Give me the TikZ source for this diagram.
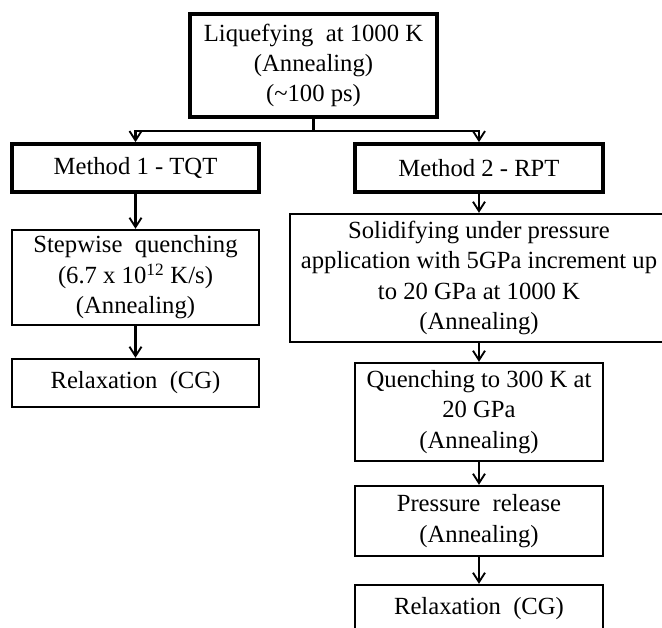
\documentclass[tikz,border=0pt]{standalone}
\usepackage{fontspec}
\setmainfont{Liberation Serif}
\usetikzlibrary{arrows.meta}

\begin{document}
\begin{tikzpicture}[x=0.75pt, y=0.75pt, >={Straight Barb[length=7pt, width=9pt, line width=1.4pt]}]
    \useasboundingbox (0,0) rectangle (662,628);
    \begin{scope}
        \tikzstyle{every node}=[fill=white, draw=black, rectangle, line width=1.8pt, inner sep=0pt, align=center, text=black, font=\fontsize{18.5}{22.8}\selectfont]
        \tikzstyle{heavy}=[line width=2.8pt]
        \node[heavy, minimum width=247*0.75pt, minimum height=103*0.75pt] (0) at (313.5,562.5) {Liquefying~ at 1000 K\\(Annealing)\\(\char`~100 ps)};
        \node[heavy, minimum width=247*0.75pt, minimum height=48*0.75pt] (1) at (135.5,460) {Method 1 - TQT};
        \node[heavy, minimum width=248*0.75pt, minimum height=48*0.75pt] (2) at (479,460) {Method 2 - RPT};
        \node[minimum width=247*0.75pt, minimum height=95*0.75pt] (3) at (135.5,350.5) {Stepwise~ quenching\\(6.7 x 10\textsuperscript{12} K/s)\\(Annealing)};
        \node[minimum width=247*0.75pt, minimum height=48*0.75pt] (4) at (135.5,245) {Relaxation~ (CG)};
        \node[minimum width=378*0.75pt, minimum height=128*0.75pt] (5) at (479,350) {Solidifying under pressure\\application with 5GPa increment up\\to 20 GPa at 1000 K\\(Annealing)};
        \node[minimum width=248*0.75pt, minimum height=98*0.75pt] (6) at (479,216) {Quenching to 300 K at\\20 GPa\\(Annealing)};
        \node[minimum width=248*0.75pt, minimum height=70*0.75pt] (7) at (479,107) {Pressure~ release\\(Annealing)};
        \node[minimum width=248*0.75pt, minimum height=48*0.75pt] (8) at (479,19) {Relaxation~ (CG)};
    \end{scope}
    \coordinate (s) at (313.5,497);
    \begin{scope}
        \tikzstyle{every edge}=[draw, line width=1.6pt, ->]
        \draw[line width=1.6pt] (0) -- (s);
        \draw[line width=1.6pt, ->] (s) -| (1);
        \draw[line width=1.6pt, ->] (s) -| (2);
        \path
        (1) edge (3)
        (3) edge (4)
        (2) edge (5)
        (5) edge (6)
        (6) edge (7)
        (7) edge (8);
    \end{scope}
\end{tikzpicture}
\end{document}
